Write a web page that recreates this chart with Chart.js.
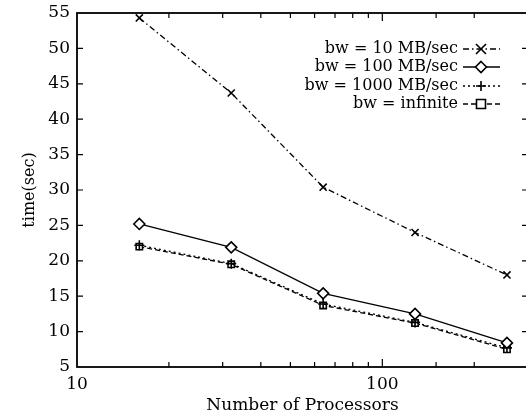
<!DOCTYPE html>
<html>
<head>
<meta charset="utf-8">
<script src="https://cdn.jsdelivr.net/npm/chart.js@4.4.1/dist/chart.umd.min.js"></script>
<style>
  html, body { margin: 0; padding: 0; background: #fff; overflow: hidden; }
  #wrap { width: 530px; height: 420px; }
</style>
</head>
<body>
<div id="wrap"><canvas id="chart" width="530" height="420"></canvas></div>
<script>
// data
const processors = [16, 32, 64, 128, 256];
const bw10 = [54.3, 43.7, 30.4, 24.0, 18.0];
const bw100 = [25.2, 21.9, 15.4, 12.5, 8.4];
const bw1000 = [22.2, 19.6, 13.9, 11.3, 7.7];
const bwInf = [22.0, 19.5, 13.7, 11.2, 7.5];
const seriesLabels = ['bw = 10 MB/sec', 'bw = 100 MB/sec', 'bw = 1000 MB/sec', 'bw = infinite'];
const xTickLabels = [10, 100];
const yTickValues = [5, 10, 15, 20, 25, 30, 35, 40, 45, 50, 55];

const FONT = 'DejaVu Serif';

function pts(values) {
    return processors.map((p, i) => ({ x: p, y: values[i] }));
}

// gnuplot style frame with inward ticks on all four sides
const frameTicks = {
    id: 'frameTicks',
    afterDatasetsDraw(chart) {
        const { ctx, chartArea: a, scales } = chart;
        ctx.save();
        ctx.strokeStyle = '#000';
        ctx.lineWidth = 1.8;
        ctx.strokeRect(a.left, a.top, a.right - a.left, a.bottom - a.top);
        ctx.lineWidth = 1.2;
        ctx.beginPath();
        scales.x.ticks.forEach(t => {
            const x = scales.x.getPixelForValue(t.value);
            if (x <= a.left + 1 || x >= a.right - 1) return;
            const len = xTickLabels.includes(t.value) ? 8 : 5;
            ctx.moveTo(x, a.bottom); ctx.lineTo(x, a.bottom - len);
            ctx.moveTo(x, a.top); ctx.lineTo(x, a.top + len);
        });
        yTickValues.forEach(v => {
            const y = scales.y.getPixelForValue(v);
            if (y <= a.top + 1 || y >= a.bottom - 1) return;
            ctx.moveTo(a.left, y); ctx.lineTo(a.left + 6, y);
            ctx.moveTo(a.right, y); ctx.lineTo(a.right - 6, y);
        });
        ctx.stroke();
        ctx.restore();
    }
};

function drawMarker(ctx, style, r, x, y) {
    ctx.beginPath();
    if (style === 'crossRot') {
        ctx.moveTo(x - r, y - r); ctx.lineTo(x + r, y + r);
        ctx.moveTo(x + r, y - r); ctx.lineTo(x - r, y + r);
        ctx.stroke();
    } else if (style === 'cross') {
        ctx.moveTo(x - r, y); ctx.lineTo(x + r, y);
        ctx.moveTo(x, y - r); ctx.lineTo(x, y + r);
        ctx.stroke();
    } else if (style === 'rectRot') {
        ctx.moveTo(x, y - r); ctx.lineTo(x + r, y); ctx.lineTo(x, y + r); ctx.lineTo(x - r, y);
        ctx.closePath(); ctx.fill(); ctx.stroke();
    } else {
        ctx.rect(x - r, y - r, 2 * r, 2 * r);
        ctx.fill(); ctx.stroke();
    }
}

// key in the top right, text first then a line sample
const keyBox = {
    id: 'keyBox',
    afterDraw(chart) {
        const ctx = chart.ctx;
        const rows = [49, 67, 86, 104];
        ctx.save();
        ctx.font = '16px "' + FONT + '"';
        ctx.textAlign = 'right';
        ctx.textBaseline = 'middle';
        chart.data.datasets.forEach((ds, i) => {
            const y = rows[i];
            ctx.fillStyle = '#000';
            ctx.fillText(ds.label, 458, y);
            ctx.strokeStyle = '#000';
            ctx.lineWidth = ds.borderWidth;
            ctx.setLineDash(ds.borderDash || []);
            ctx.beginPath();
            ctx.moveTo(463, y); ctx.lineTo(500, y);
            ctx.stroke();
            ctx.setLineDash([]);
            ctx.fillStyle = '#fff';
            ctx.lineWidth = ds.pointBorderWidth;
            drawMarker(ctx, ds.pointStyle, ds.pointRadius, 481, y);
        });
        ctx.restore();
    }
};

const common = {
    borderColor: '#000',
    pointBorderColor: '#000',
    pointBackgroundColor: '#fff',
    borderWidth: 1.3,
    pointBorderWidth: 1.6,
    fill: false,
    tension: 0
};

new Chart(document.getElementById('chart'), {
    type: 'line',
    data: {
        datasets: [
            Object.assign({}, common, { label: seriesLabels[0], data: pts(bw10), pointStyle: 'crossRot', pointRadius: 5, borderDash: [6, 3, 1.5, 3] }),
            Object.assign({}, common, { label: seriesLabels[1], data: pts(bw100), pointStyle: 'rectRot', pointRadius: 5.5, borderDash: [] }),
            Object.assign({}, common, { label: seriesLabels[2], data: pts(bw1000), pointStyle: 'cross', pointRadius: 5, borderDash: [2, 3] }),
            Object.assign({}, common, { label: seriesLabels[3], data: pts(bwInf), pointStyle: 'rect', pointRadius: 4.5, borderDash: [5, 3] })
        ]
    },
    options: {
        responsive: false,
        animation: false,
        layout: { autoPadding: false, padding: { top: 13, right: 2, left: 0, bottom: 0 } },
        plugins: { legend: { display: false }, tooltip: { enabled: false } },
        scales: {
            x: {
                type: 'logarithmic',
                min: 10,
                max: 300,
                grid: { display: false, drawTicks: false },
                border: { display: false },
                ticks: {
                    autoSkip: false,
                    maxRotation: 0,
                    padding: 7,
                    color: '#000',
                    font: { family: FONT, size: 17 },
                    callback: v => xTickLabels.includes(v) ? String(v) : ''
                },
                title: {
                    display: true,
                    text: 'Number of Processors',
                    color: '#000',
                    font: { family: FONT, size: 17 },
                    padding: { top: 0, bottom: 4 }
                },
                afterFit: s => { s.height = 53; s.paddingLeft = 0; s.paddingRight = 0; }
            },
            y: {
                min: 5,
                max: 55,
                grid: { display: false, drawTicks: false },
                border: { display: false },
                ticks: {
                    stepSize: 5,
                    padding: 7,
                    color: '#000',
                    font: { family: FONT, size: 17 }
                },
                title: {
                    display: true,
                    text: 'time(sec)',
                    color: '#000',
                    font: { family: FONT, size: 16 },
                    padding: { top: 20, bottom: 0 }
                },
                afterFit: s => { s.width = 77; s.paddingTop = 0; s.paddingBottom = 0; }
            }
        }
    },
    plugins: [frameTicks, keyBox]
});
</script>
</body>
</html>
